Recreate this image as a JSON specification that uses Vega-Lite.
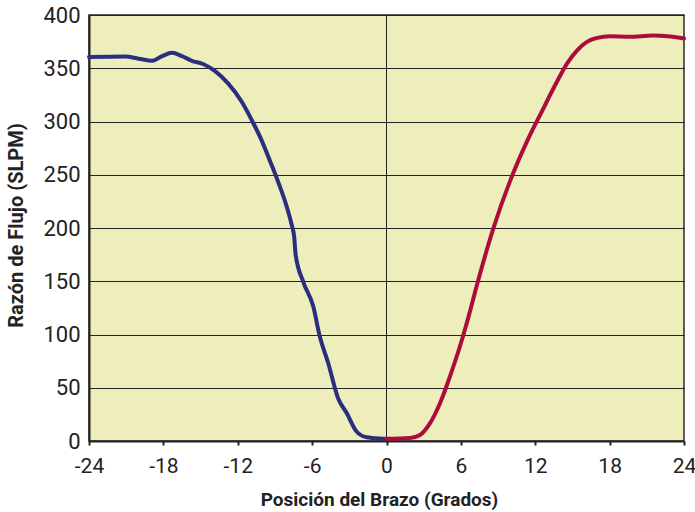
{
  "$schema": "https://vega.github.io/schema/vega-lite/v6.json",
  "autosize": {"type": "none"},
  "padding": {"left": 89, "top": 15, "right": 11, "bottom": 71},
  "width": 595,
  "height": 426,
  "background": "#ffffff",
  "config": {
    "view": {"fill": "#EEEEBC", "stroke": "#2a2a2a", "strokeWidth": 1.5},
    "font": "Roboto"
  },
  "datasets": {
    "curves": [
      {"pos": -24, "flow": 360.5, "side": "neg"},
      {"pos": -21.1, "flow": 361, "side": "neg"},
      {"pos": -20.0, "flow": 359, "side": "neg"},
      {"pos": -18.9, "flow": 357, "side": "neg"},
      {"pos": -18.1, "flow": 361.4, "side": "neg"},
      {"pos": -17.3, "flow": 364.5, "side": "neg"},
      {"pos": -16.5, "flow": 361.4, "side": "neg"},
      {"pos": -15.7, "flow": 357, "side": "neg"},
      {"pos": -14.8, "flow": 354, "side": "neg"},
      {"pos": -13.8, "flow": 347, "side": "neg"},
      {"pos": -12.8, "flow": 336, "side": "neg"},
      {"pos": -11.7, "flow": 319, "side": "neg"},
      {"pos": -10.9, "flow": 302, "side": "neg"},
      {"pos": -10.1, "flow": 283, "side": "neg"},
      {"pos": -9.4, "flow": 263, "side": "neg"},
      {"pos": -8.7, "flow": 242, "side": "neg"},
      {"pos": -8.1, "flow": 222, "side": "neg"},
      {"pos": -7.65, "flow": 203, "side": "neg"},
      {"pos": -7.45, "flow": 192, "side": "neg"},
      {"pos": -7.33, "flow": 175, "side": "neg"},
      {"pos": -6.7, "flow": 149, "side": "neg"},
      {"pos": -5.9, "flow": 126, "side": "neg"},
      {"pos": -5.4, "flow": 99, "side": "neg"},
      {"pos": -4.7, "flow": 73, "side": "neg"},
      {"pos": -3.9, "flow": 40, "side": "neg"},
      {"pos": -3.2, "flow": 26, "side": "neg"},
      {"pos": -2.4, "flow": 8.7, "side": "neg"},
      {"pos": -1.6, "flow": 3.5, "side": "neg"},
      {"pos": -0.3, "flow": 2.2, "side": "neg"},
      {"pos": 0, "flow": 2, "side": "neg"},
      {"pos": 0, "flow": 2, "side": "pos"},
      {"pos": 1.9, "flow": 2.8, "side": "pos"},
      {"pos": 2.7, "flow": 5.6, "side": "pos"},
      {"pos": 3.5, "flow": 16.5, "side": "pos"},
      {"pos": 4.3, "flow": 35, "side": "pos"},
      {"pos": 5.1, "flow": 60, "side": "pos"},
      {"pos": 5.9, "flow": 88, "side": "pos"},
      {"pos": 6.6, "flow": 116, "side": "pos"},
      {"pos": 7.4, "flow": 151, "side": "pos"},
      {"pos": 8.6, "flow": 199, "side": "pos"},
      {"pos": 10.1, "flow": 248, "side": "pos"},
      {"pos": 11.4, "flow": 283, "side": "pos"},
      {"pos": 12.6, "flow": 311, "side": "pos"},
      {"pos": 13.6, "flow": 334, "side": "pos"},
      {"pos": 14.6, "flow": 355, "side": "pos"},
      {"pos": 15.4, "flow": 367, "side": "pos"},
      {"pos": 16.2, "flow": 375, "side": "pos"},
      {"pos": 17.0, "flow": 378.5, "side": "pos"},
      {"pos": 18.0, "flow": 380, "side": "pos"},
      {"pos": 19.6, "flow": 379.5, "side": "pos"},
      {"pos": 21.5, "flow": 380.8, "side": "pos"},
      {"pos": 22.9, "flow": 379.8, "side": "pos"},
      {"pos": 24, "flow": 378, "side": "pos"}
    ],
    "zero": [{"pos": 0}]
  },
  "layer": [
    {
      "data": {"name": "zero"},
      "mark": {"type": "rule", "color": "#222222", "strokeWidth": 1},
      "encoding": {
        "x": {"field": "pos", "type": "quantitative", "scale": {"domain": [-24, 24]}}
      }
    },
    {
      "data": {"name": "curves"},
      "mark": {"type": "line", "strokeWidth": 4, "interpolate": "monotone", "strokeCap": "round"},
      "encoding": {
        "x": {
          "field": "pos", "type": "quantitative",
          "scale": {"domain": [-24, 24], "nice": false, "zero": false},
          "axis": {
            "values": [-24, -18, -12, -6, 0, 6, 12, 18, 24],
            "labelExpr": "'' + datum.value",
            "title": "Posición del Brazo (Grados)",
            "grid": false,
            "domainColor": "#222222", "domainWidth": 2,
            "tickColor": "#222222", "tickSize": 4, "tickWidth": 2,
            "labelFontSize": 21, "labelColor": "#222222", "labelPadding": 10,
            "labelFont": "Roboto", "labelFlush": false,
            "titleFont": "Roboto", "titleFontSize": 19, "titleFontWeight": "bold", "titleColor": "#222222",
            "titleX": 290, "titleY": 64, "titleBaseline": "alphabetic", "titleAnchor": "middle"
          }
        },
        "y": {
          "field": "flow", "type": "quantitative",
          "scale": {"domain": [0, 400], "nice": false},
          "axis": {
            "values": [0, 50, 100, 150, 200, 250, 300, 350, 400],
            "title": "Razón de Flujo (SLPM)",
            "grid": true, "gridColor": "#222222", "gridWidth": 1, "gridOpacity": 1,
            "domainColor": "#222222", "domainWidth": 2,
            "ticks": false,
            "labelFontSize": 22, "labelColor": "#222222", "labelPadding": 9,
            "labelFont": "Roboto", "labelFlush": false,
            "titleFont": "Roboto", "titleFontSize": 20, "titleFontWeight": "bold", "titleColor": "#222222",
            "titleX": -63, "titleY": 210, "titleBaseline": "bottom", "titleAnchor": "middle"
          }
        },
        "color": {
          "field": "side", "type": "nominal",
          "scale": {"domain": ["neg", "pos"], "range": ["#2b2e7e", "#ad0b3b"]},
          "legend": null
        }
      }
    }
  ]
}
